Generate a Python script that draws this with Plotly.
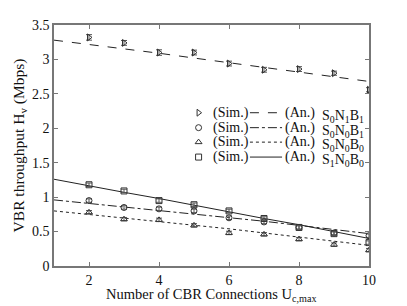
import plotly.graph_objects as go

x_sim = [2, 3, 4, 5, 6, 7, 8, 9, 10]
x_an = [1, 2, 3, 4, 5, 6, 7, 8, 9, 10]

# S0N1B1
sim_s0n1b1 = [3.32, 3.24, 3.10, 3.10, 2.94, 2.85, 2.86, 2.80, 2.56]
an_s0n1b1 = [3.28, 3.22, 3.15, 3.09, 3.02, 2.95, 2.88, 2.82, 2.75, 2.68]
# S0N0B1
sim_s0n0b1 = [0.95, 0.85, 0.83, 0.80, 0.70, 0.64, 0.56, 0.48, 0.44]
an_s0n0b1 = [0.96, 0.91, 0.86, 0.81, 0.76, 0.71, 0.65, 0.59, 0.53, 0.47]
# S0N0B0
sim_s0n0b0 = [0.78, 0.68, 0.67, 0.59, 0.48, 0.46, 0.39, 0.31, 0.23]
an_s0n0b0 = [0.80, 0.75, 0.70, 0.65, 0.59, 0.54, 0.48, 0.42, 0.36, 0.30]
# S1N0B0
sim_s1n0b0 = [1.18, 1.09, 0.95, 0.89, 0.80, 0.69, 0.56, 0.47, 0.34]
an_s1n0b0 = [1.26, 1.16, 1.07, 0.98, 0.88, 0.79, 0.69, 0.60, 0.50, 0.40]

err = [0.04, 0.035, 0.04, 0.035, 0.035, 0.035, 0.035, 0.03, 0.03]
err_small = [0.025] * 9

labels = ["S<sub>0</sub>N<sub>1</sub>B<sub>1</sub>",
          "S<sub>0</sub>N<sub>0</sub>B<sub>1</sub>",
          "S<sub>0</sub>N<sub>0</sub>B<sub>0</sub>",
          "S<sub>1</sub>N<sub>0</sub>B<sub>0</sub>"]
symbols = ["triangle-right-open", "circle-open", "triangle-up-open", "square-open"]
dashes = ["dash", "dashdot", "dot", "solid"]

sims = [sim_s0n1b1, sim_s0n0b1, sim_s0n0b0, sim_s1n0b0]
ans = [an_s0n1b1, an_s0n0b1, an_s0n0b0, an_s1n0b0]
errs = [err, err_small, err_small, err_small]

FONT = "Liberation Serif"
LINEC = "#222222"
MARKC = "#333333"
TXT = "#111111"

fig = go.Figure()
for an, d in zip(ans, dashes):
    fig.add_trace(go.Scatter(x=x_an, y=an, mode="lines",
                             line=dict(color=LINEC, width=1, dash=d),
                             showlegend=False))
for sim, s, e in zip(sims, symbols, errs):
    fig.add_trace(go.Scatter(x=x_sim, y=sim, mode="markers",
                             marker=dict(symbol=s, size=6, color=MARKC,
                                         line=dict(width=1, color=MARKC)),
                             error_y=dict(type="data", array=e, color="#555555",
                                          thickness=1, width=3),
                             showlegend=False))

# legend (manual) on overlay axes
row_y = [0.636, 0.574, 0.514, 0.452]
fig.add_trace(go.Scatter(x=[0.459] * 4, y=row_y, mode="markers", xaxis="x2", yaxis="y2",
                         marker=dict(symbol=symbols, size=6, color=MARKC,
                                     line=dict(width=1, color=MARKC)),
                         showlegend=False, hoverinfo="skip"))
for ry, d in zip(row_y, dashes):
    fig.add_trace(go.Scatter(x=[0.622, 0.724], y=[ry, ry], mode="lines", xaxis="x2", yaxis="y2",
                             line=dict(color=LINEC, width=1, dash=d),
                             showlegend=False, hoverinfo="skip"))

annotations = []
for ry, lab in zip(row_y, labels):
    annotations.append(dict(x=0.498, y=ry, xref="paper", yref="paper", text="(Sim.)",
                            showarrow=False, xanchor="left", yanchor="middle",
                            font=dict(family=FONT, size=14, color=TXT)))
    annotations.append(dict(x=0.726, y=ry, xref="paper", yref="paper", text="(An.)",
                            showarrow=False, xanchor="left", yanchor="middle",
                            font=dict(family=FONT, size=14, color=TXT)))
    annotations.append(dict(x=0.843, y=ry - 0.014, xref="paper", yref="paper", text=lab,
                            showarrow=False, xanchor="left", yanchor="middle",
                            font=dict(family=FONT, size=14, color=TXT)))

# x axis title as annotation, bottom-anchored so the subscript stays in the page
annotations.append(dict(x=0.5, y=-0.163, xref="paper", yref="paper",
                        text="Number of CBR Connections U<sub>c,max</sub>",
                        showarrow=False, xanchor="center", yanchor="bottom",
                        borderpad=0,
                        font=dict(family=FONT, size=14.5, color=TXT)))

axis_common = dict(showline=True, linecolor="#777777", linewidth=1.5, mirror="ticks",
                   ticks="inside", ticklen=4, tickcolor="#777777", showgrid=False,
                   zeroline=False, tickfont=dict(family=FONT, size=14, color=TXT))

# page body has an 8px margin (top/left), so the figure is sized to fit the 407x306 window
fig.update_layout(
    width=399, height=298,
    margin=dict(l=46, r=38, t=17, b=40),
    paper_bgcolor="white", plot_bgcolor="white",
    xaxis=dict(range=[1, 10], tickvals=[2, 4, 6, 8, 10], automargin=False,
               ticklabelstandoff=0, **axis_common),
    yaxis=dict(range=[0, 3.5], tickvals=[0, 0.5, 1, 1.5, 2, 2.5, 3, 3.5],
               ticktext=["0", "0.5", "1", "1.5", "2", "2.5", "3", "3.5"],
               automargin=False,
               title=dict(text="VBR throughput H<sub>v</sub> (Mbps)",
                          font=dict(family=FONT, size=15.5, color=TXT), standoff=4),
               **axis_common),
    xaxis2=dict(overlaying="x", range=[0, 1], visible=False),
    yaxis2=dict(overlaying="y", range=[0, 1], visible=False),
    annotations=annotations,
    showlegend=False,
)

fig.write_html("out.html")
